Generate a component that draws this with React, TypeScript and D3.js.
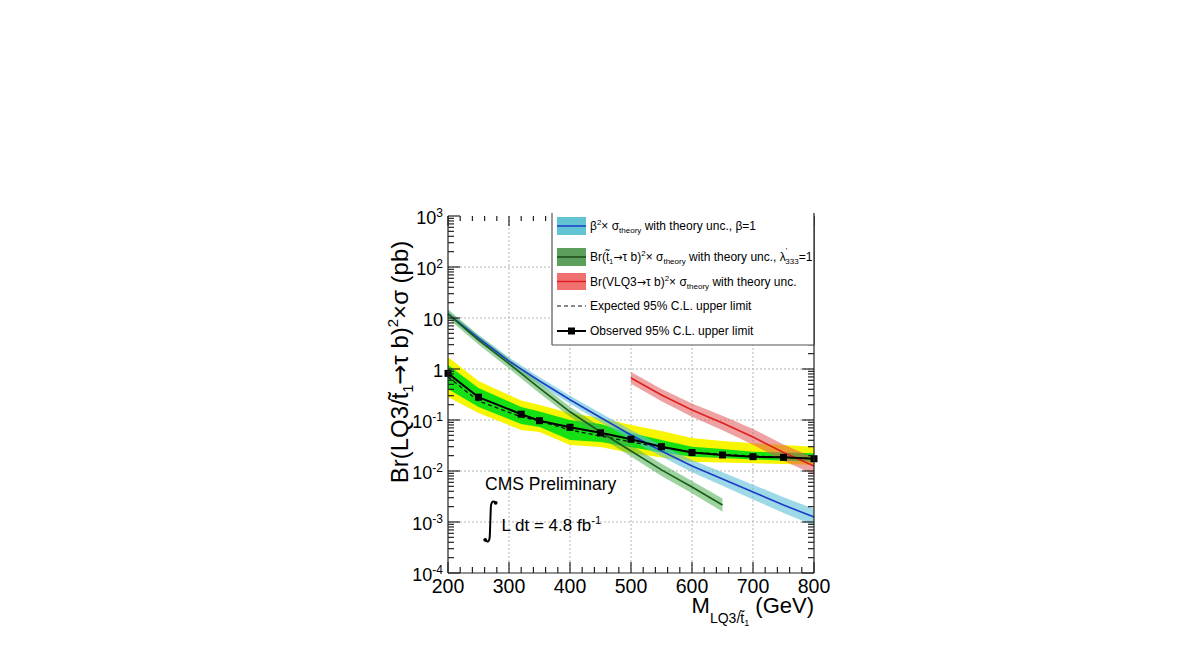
import React from 'react';
import * as d3 from 'd3';

// ---- Limit data (GeV, pb) ----
const limitMass = [200, 250, 320, 350, 400, 450, 500, 550, 600, 650, 700, 750, 800];
const observedLimit = [0.82, 0.28, 0.13, 0.097, 0.072, 0.056, 0.042, 0.030, 0.023, 0.0206, 0.0191, 0.0185, 0.0174];
const expectedLimit = [0.70, 0.236, 0.115, 0.0955, 0.0637, 0.0485, 0.0371, 0.0289, 0.0236, 0.0211, 0.0197, 0.0184, 0.0176];
const expected1SigUp = [1.20, 0.424, 0.18, 0.146, 0.100, 0.0836, 0.0556, 0.0406, 0.0299, 0.0270, 0.0239, 0.0231, 0.0222];
const expected1SigDn = [0.406, 0.180, 0.0836, 0.0730, 0.0406, 0.0371, 0.0292, 0.0231, 0.0191, 0.0180, 0.0169, 0.0161, 0.0152];
const expected2SigUp = [1.72, 0.582, 0.24, 0.197, 0.137, 0.109, 0.0798, 0.0608, 0.0444, 0.0387, 0.0349, 0.0324, 0.0299];
const expected2SigDn = [0.283, 0.137, 0.0637, 0.0582, 0.0324, 0.0296, 0.0225, 0.0184, 0.0152, 0.0147, 0.0142, 0.0137, 0.0131];

// ---- Theory curves ----
const lq3Mass = [200, 250, 300, 350, 400, 450, 500, 550, 600, 650, 700, 750, 800];
const lq3Xsec = [12.0, 4.05, 1.43, 0.582, 0.25, 0.112, 0.0508, 0.0247, 0.0125, 0.00697, 0.00387, 0.00215, 0.00125];
const lq3LogUnc = [0.06, 0.065, 0.07, 0.075, 0.08, 0.09, 0.10, 0.11, 0.12, 0.13, 0.145, 0.155, 0.165];

const stopMass = [200, 250, 300, 350, 400, 450, 500, 550, 600, 650];
const stopXsec = [12.0, 3.7, 1.28, 0.42, 0.145, 0.0582, 0.0247, 0.0105, 0.00485, 0.00215];
const stopLogUnc = [0.09, 0.09, 0.095, 0.10, 0.10, 0.11, 0.11, 0.12, 0.12, 0.13];

const vlqMass = [500, 550, 600, 650, 700, 750, 800];
const vlqXsec = [0.667, 0.309, 0.157, 0.0873, 0.0465, 0.023, 0.0125];
const vlqLogUnc = [0.115, 0.12, 0.13, 0.14, 0.155, 0.16, 0.165];

// ---- Axis ticks ----
const xTickValues = [200, 300, 400, 500, 600, 700, 800];
const yTickExponents = [-4, -3, -2, -1, 0, 1, 2, 3];

const FONT = 'Liberation Sans, Arial, Helvetica, sans-serif';
const ARROW_FONT = 'DejaVu Sans, sans-serif';

const L = 448, R = 814, T = 216, B = 573;

export default function App() {
  const x = d3.scaleLinear().domain([200, 800]).range([L, R]);
  const y = d3.scaleLog().domain([1e-4, 1e3]).range([B, T]);

  const bandArea = (ms: number[], lo: number[], hi: number[]) =>
    d3.area<number>().x((_, i) => x(ms[i])).y0((_, i) => y(lo[i])).y1((_, i) => y(hi[i]))(ms) || '';
  const theoryBand = (ms: number[], c: number[], u: number[]) =>
    bandArea(ms, c.map((v, i) => v * Math.pow(10, -u[i])), c.map((v, i) => v * Math.pow(10, u[i])));
  const linePath = (ms: number[], vs: number[]) =>
    d3.line<number>().x((_, i) => x(ms[i])).y((_, i) => y(vs[i]))(ms) || '';

  const xMinor: number[] = [];
  for (let m = 200; m <= 800; m += 20) if (m % 100 !== 0) xMinor.push(m);
  const yMinor: number[] = [];
  for (let e = -4; e < 3; e++) for (let k = 2; k <= 9; k++) yMinor.push(k * Math.pow(10, e));

  const yLabel = (e: number) => {
    if (e === 0) return <tspan>1</tspan>;
    if (e === 1) return <tspan>10</tspan>;
    return (
      <>
        <tspan>10</tspan>
        <tspan fontSize={12} dy={-7}>{e < 0 ? '-' + Math.abs(e) : String(e)}</tspan>
      </>
    );
  };

  return (
    <svg width={1190} height={654} style={{ position: 'absolute', left: 0, top: 0, display: 'block' }} fontFamily={FONT}>
      <rect x={0} y={0} width={1190} height={654} fill="#fff" />
      <g stroke="#b5b5b5" strokeWidth={1} strokeDasharray="2,2">
        {xTickValues.filter(v => v > 200 && v < 800).map(v => (
          <line key={'gx' + v} x1={x(v)} x2={x(v)} y1={T} y2={B} />
        ))}
        {yTickExponents.filter(e => e > -4 && e < 3).map(e => (
          <line key={'gy' + e} x1={L} x2={R} y1={y(Math.pow(10, e))} y2={y(Math.pow(10, e))} />
        ))}
      </g>

      <path d={bandArea(limitMass, expected2SigDn, expected2SigUp)} fill="#f8f500" />
      <path d={bandArea(limitMass, expected1SigDn, expected1SigUp)} fill="#14e014" />

      <path d={theoryBand(lq3Mass, lq3Xsec, lq3LogUnc)} fill="#5bc0d6" fillOpacity={0.6} />
      <path d={theoryBand(stopMass, stopXsec, stopLogUnc)} fill="#4caf50" fillOpacity={0.55} />
      <path d={theoryBand(vlqMass, vlqXsec, vlqLogUnc)} fill="#e05555" fillOpacity={0.55} />

      <path d={linePath(limitMass, expectedLimit)} fill="none" stroke="#111" strokeWidth={1.3} strokeDasharray="4,3" />

      <path d={linePath(lq3Mass, lq3Xsec)} fill="none" stroke="#1a3cc8" strokeWidth={1.6} />
      <path d={linePath(stopMass, stopXsec)} fill="none" stroke="#1a5a1a" strokeWidth={1.6} />
      <path d={linePath(vlqMass, vlqXsec)} fill="none" stroke="#e02020" strokeWidth={1.6} />

      <path d={linePath(limitMass, observedLimit)} fill="none" stroke="#000" strokeWidth={2} />
      {limitMass.map((m, i) => (
        <rect key={'o' + m} x={x(m) - 3.5} y={y(observedLimit[i]) - 3.5} width={7} height={7} fill="#000" />
      ))}

      <g stroke="#222" strokeWidth={1.2} fill="none">
        <line x1={L} x2={L} y1={T} y2={B} />
        <line x1={L} x2={R} y1={B} y2={B} />
        <line x1={R} x2={R} y1={T} y2={B} />
        {xTickValues.map(v => (
          <g key={'xt' + v}>
            <line x1={x(v)} x2={x(v)} y1={B} y2={B - 11} />
            <line x1={x(v)} x2={x(v)} y1={T} y2={T + 10} />
          </g>
        ))}
        {xMinor.map(v => (
          <g key={'xm' + v}>
            <line x1={x(v)} x2={x(v)} y1={B} y2={B - 6} />
            <line x1={x(v)} x2={x(v)} y1={T} y2={T + 5} />
          </g>
        ))}
        {yTickExponents.map(e => (
          <g key={'yt' + e}>
            <line x1={L} x2={L + 12} y1={y(Math.pow(10, e))} y2={y(Math.pow(10, e))} />
            <line x1={R} x2={R - 12} y1={y(Math.pow(10, e))} y2={y(Math.pow(10, e))} />
          </g>
        ))}
        {yMinor.map((v, i) => (
          <g key={'ym' + i}>
            <line x1={L} x2={L + 6} y1={y(v)} y2={y(v)} />
            <line x1={R} x2={R - 6} y1={y(v)} y2={y(v)} />
          </g>
        ))}
      </g>

      {xTickValues.map(v => (
        <text key={'xl' + v} x={x(v)} y={593} fontSize={19.5} textAnchor="middle" fill="#000">{v}</text>
      ))}
      {yTickExponents.map(e => (
        <text key={'yl' + e} x={443} y={y(Math.pow(10, e)) + 8} fontSize={18} textAnchor="end" fill="#000">
          {yLabel(e)}
        </text>
      ))}

      <text transform="translate(408,362) rotate(-90)" fontSize={24} textAnchor="middle" fill="#000">
        Br(LQ3/t{'\u0303'}<tspan fontSize={14} dy={5}>1</tspan><tspan dy={-5} fontFamily={ARROW_FONT}>{'\u2192'}</tspan><tspan>τ b)</tspan><tspan fontSize={15} dy={-10}>2</tspan><tspan dy={10}>×σ (pb)</tspan>
      </text>
      <text x={814} y={613} fontSize={22} textAnchor="end" fill="#000">
        M<tspan fontSize={14} dy={10}>LQ3/t{'\u0303'}</tspan><tspan fontSize={9} dy={3}>1</tspan><tspan fontSize={22} dy={-13}> (GeV)</tspan>
      </text>

      <text x={485} y={490} fontSize={17.5} fill="#000">CMS Preliminary</text>
      <path d="M495.5,502.5 C492.5,500 490.8,503 490.8,508 L489.8,536 C489.6,541.5 487.5,543 485.3,540" fill="none" stroke="#000" strokeWidth={2} />
      <circle cx={495.7} cy={502.8} r={1.9} fill="#000" />
      <circle cx={485.2} cy={539.8} r={1.9} fill="#000" />
      <text x={501.5} y={531} fontSize={17} fill="#000">
        L dt = 4.8 fb<tspan fontSize={11.5} dy={-7}>-1</tspan>
      </text>

      <g>
        <rect x={552} y={213} width={262} height={132} fill="#fff" />
        <line x1={552} x2={552} y1={213} y2={345} stroke="#555" strokeWidth={1.2} />
        <line x1={552} x2={814} y1={345} y2={345} stroke="#555" strokeWidth={1.2} />
        <line x1={814} x2={814} y1={213} y2={345} stroke="#222" strokeWidth={1.2} />

        <rect x={557} y={217} width={29} height={18} fill="#62c4d2" />
        <line x1={557} x2={586} y1={226} y2={226} stroke="#1a3cc8" strokeWidth={1.5} />
        <text x={590} y={230} fontSize={12} fill="#000">
          β<tspan fontSize={8} dy={-5}>2</tspan><tspan dy={5}>× σ</tspan><tspan fontSize={8} dy={3}>theory</tspan><tspan dy={-3}> with theory unc., β=1</tspan>
        </text>

        <rect x={557} y={248} width={29} height={18} fill="#5c9e5c" />
        <line x1={557} x2={586} y1={257} y2={257} stroke="#1a4a1a" strokeWidth={1.5} />
        <text x={590} y={261} fontSize={12} fill="#000">
          Br(t{'\u0303'}<tspan fontSize={7} dy={3}>1</tspan><tspan dy={-3} fontFamily={ARROW_FONT} fontSize={11}>{'\u2192'}</tspan><tspan>τ b)</tspan><tspan fontSize={8} dy={-5}>2</tspan><tspan dy={5}>× σ</tspan><tspan fontSize={8} dy={3}>theory</tspan><tspan dy={-3}> with theory unc., λ</tspan><tspan fontSize={8} dy={-8}>'</tspan><tspan fontSize={8} dx={-2} dy={11}>333</tspan><tspan dy={-3}>=1</tspan>
        </text>

        <rect x={557} y={273} width={29} height={17} fill="#f07070" />
        <line x1={557} x2={586} y1={281.5} y2={281.5} stroke="#e02020" strokeWidth={1.5} />
        <text x={590} y={286} fontSize={12} fill="#000">
          Br(VLQ3<tspan fontFamily={ARROW_FONT} fontSize={11}>{'\u2192'}</tspan><tspan>τ b)</tspan><tspan fontSize={8} dy={-5}>2</tspan><tspan dy={5}>× σ</tspan><tspan fontSize={8} dy={3}>theory</tspan><tspan dy={-3}> with theory unc.</tspan>
        </text>

        <line x1={557} x2={586} y1={306} y2={306} stroke="#111" strokeWidth={1.2} strokeDasharray="4,3" />
        <text x={590} y={310} fontSize={12} fill="#000">Expected 95% C.L. upper limit</text>

        <line x1={557} x2={586} y1={331} y2={331} stroke="#000" strokeWidth={2} />
        <rect x={568} y={327.5} width={7} height={7} fill="#000" />
        <text x={590} y={335} fontSize={12} fill="#000">Observed 95% C.L. upper limit</text>
      </g>
    </svg>
  );
}
